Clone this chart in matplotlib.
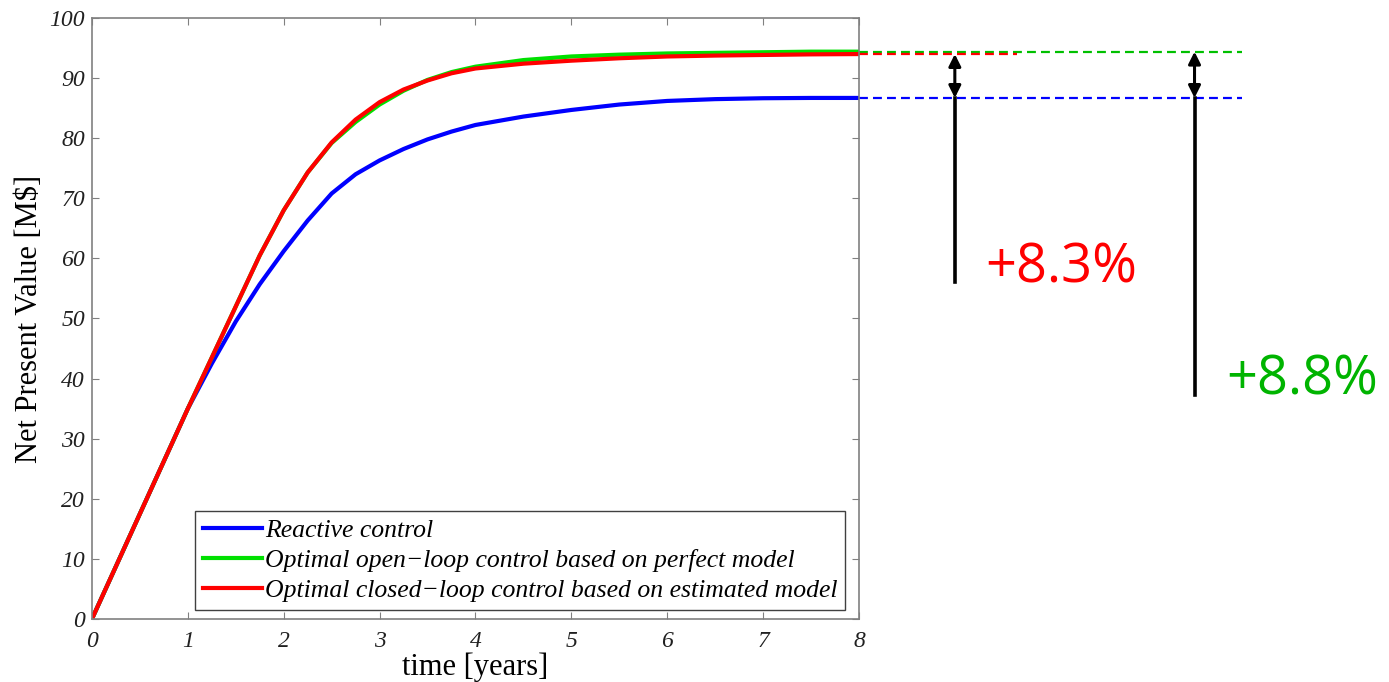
import matplotlib
matplotlib.use("Agg")
from matplotlib import pyplot as plt

# 数据：净现值曲线
years = [0, 0.5, 1, 1.25, 1.5, 1.75, 2, 2.25, 2.5, 2.75, 3, 3.25, 3.5, 3.75,
         4, 4.5, 5, 5.5, 6, 6.5, 7, 7.5, 8]
npv_reactive = [0, 17.5, 35, 42.5, 49.5, 55.7, 61.2, 66.3, 70.8, 74.0, 76.3, 78.2, 79.8, 81.1,
                82.2, 83.6, 84.7, 85.6, 86.2, 86.5, 86.65, 86.7, 86.7]
npv_open = [0, 17.5, 35, 43.5, 52, 60.5, 68, 74.3, 79.2, 82.7, 85.6, 87.9, 89.7, 91.0,
            91.9, 93.0, 93.6, 93.9, 94.1, 94.2, 94.3, 94.4, 94.4]
npv_closed = [0, 17.5, 35, 43.5, 52, 60.5, 68, 74.3, 79.3, 83.1, 86.0, 88.1, 89.6, 90.8,
              91.6, 92.4, 92.9, 93.3, 93.6, 93.75, 93.85, 93.95, 94.0]
labels = ["Reactive control",
          "Optimal open\u2212loop control based on perfect model",
          "Optimal closed\u2212loop control based on estimated model"]
gain_closed = "+8.3%"
gain_open = "+8.8%"

plt.rcParams['font.family'] = ['Liberation Serif', 'DejaVu Serif']
fig = plt.figure(figsize=(13.89, 6.82), dpi=100)
ax = fig.add_axes([0.0662, 0.0924, 0.5522, 0.8812])

ax.plot(years, npv_reactive, color="#0000ff", lw=3, label=labels[0])
ax.plot(years, npv_open, color="#00e000", lw=3, label=labels[1])
ax.plot(years, npv_closed, color="#ff0000", lw=3, label=labels[2])

ax.set_xlim(0, 8)
ax.set_ylim(0, 100)
ax.set_xticks(range(0, 9))
ax.set_yticks(range(0, 101, 10))
ax.tick_params(direction="in", length=5, top=True, right=True, labelsize=17,
               color="#808080", labelcolor="#202020")
ax.tick_params(axis="x", pad=9)
ax.tick_params(axis="y", pad=5)
for lab in ax.get_xticklabels() + ax.get_yticklabels():
    lab.set_fontstyle("italic")
for s in ax.spines.values():
    s.set_color("#808080")
    s.set_linewidth(1.2)
ax.set_xlabel("time [years]", fontsize=22, labelpad=0)
ax.set_ylabel("Net Present Value [M$]", fontsize=22, labelpad=4)

leg = ax.legend(loc="lower right", bbox_to_anchor=(0.9817, 0.015), borderaxespad=0,
                prop={"style": "italic", "size": 18.5}, handlelength=2.3,
                handletextpad=0.1, labelspacing=0.28, fancybox=False,
                borderpad=0.3, framealpha=1)
leg.get_frame().set_edgecolor("#404040")

# 右侧虚线和箭头标注
dash = (0, (4, 2.3))
ax.plot([8, 12], [npv_open[-1]] * 2, color="#00c000", lw=1.6, ls=dash, clip_on=False)
ax.plot([8, 9.65], [npv_closed[-1]] * 2, color="#ff0000", lw=1.6, ls=dash, clip_on=False)
ax.plot([8, 12], [npv_reactive[-1]] * 2, color="#0000ff", lw=1.6, ls=dash, clip_on=False)

for xa, ytop, ybot in [(9.0, npv_closed[-1], 56.1), (11.5, npv_open[-1], 37.3)]:
    ax.annotate("", xy=(xa, ytop), xytext=(xa, npv_reactive[-1]), annotation_clip=False,
                arrowprops=dict(arrowstyle="<|-|>", color="black", lw=2.2,
                                mutation_scale=18, shrinkA=0, shrinkB=0))
    ax.plot([xa, xa], [ybot, npv_reactive[-1]], color="black", lw=2.6, clip_on=False)

ax.text(9.32, 58.4, gain_closed, color="#ff0000", fontsize=39, family=["Open Sans", "DejaVu Sans"],
        va="center", ha="left", clip_on=False)
ax.text(11.83, 39.8, gain_open, color="#00b400", fontsize=39, family=["Open Sans", "DejaVu Sans"],
        va="center", ha="left", clip_on=False)

plt.savefig("out.png", dpi=100)
